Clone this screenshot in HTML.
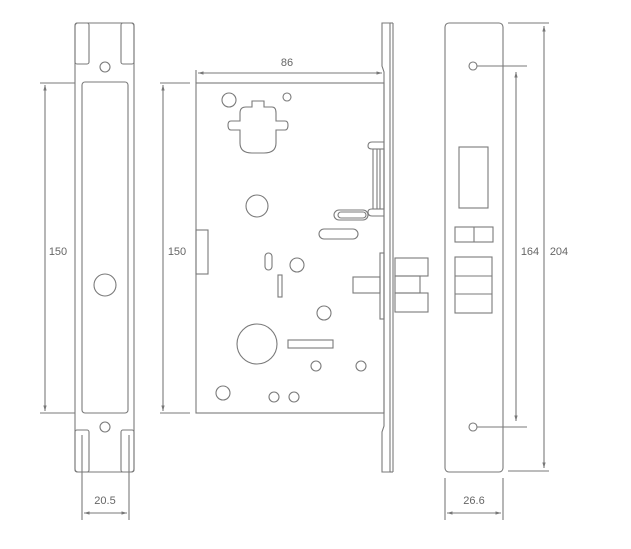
<!DOCTYPE html>
<html><head><meta charset="utf-8"><style>
html,body{margin:0;padding:0;background:#fff;}
svg{display:block;}
text{font-family:"Liberation Sans",sans-serif;font-size:11px;fill:#666;}
</style></head><body>
<svg width="631" height="549" viewBox="0 0 631 549" xmlns="http://www.w3.org/2000/svg">
<defs>
<marker id="a" markerWidth="6" markerHeight="6" refX="5" refY="3" orient="auto-start-reverse"><path d="M0,1.5 L5,3 L0,4.5z" fill="#777"/></marker>
</defs>
<g fill="none" stroke="#7a7a7a" stroke-width="1.1">
<!-- left plate -->
<rect x="75" y="23" width="59" height="449" rx="3"/>
<rect x="82" y="82" width="46" height="331" rx="3"/>
<rect x="75" y="23" width="14" height="41" rx="2"/>
<rect x="121" y="23" width="13" height="41" rx="2"/>
<rect x="75" y="430" width="14" height="42" rx="2"/>
<rect x="121" y="430" width="13" height="42" rx="2"/>
<circle cx="105" cy="67" r="5"/>
<circle cx="105" cy="427" r="5"/>
<circle cx="105" cy="285" r="11"/>
<!-- left dims -->
<line x1="40" y1="83" x2="75" y2="83"/>
<line x1="40" y1="413" x2="75" y2="413"/>
<line x1="45" y1="85" x2="45" y2="411" marker-start="url(#a)" marker-end="url(#a)"/>
<line x1="82" y1="435" x2="82" y2="520"/>
<line x1="129" y1="435" x2="129" y2="520"/>
<line x1="84" y1="513" x2="127" y2="513" marker-start="url(#a)" marker-end="url(#a)"/>
<line x1="160" y1="83" x2="190" y2="83"/>
<line x1="160" y1="413" x2="190" y2="413"/>
<line x1="163" y1="85" x2="163" y2="411" marker-start="url(#a)" marker-end="url(#a)"/>
<!-- middle body -->
<rect x="196" y="83" width="188" height="330"/>
<line x1="196" y1="70" x2="196" y2="83"/>
<line x1="198" y1="73" x2="382" y2="73" marker-start="url(#a)" marker-end="url(#a)"/>
<path d="M382,23 L390,23 L390,472 L382,472 L382,432 L384,426 L384,72 L382,66 Z"/>
<line x1="393" y1="23" x2="393" y2="472"/>
<line x1="390" y1="23" x2="393" y2="23"/><line x1="390" y1="472" x2="393" y2="472"/>
<circle cx="229" cy="100" r="7"/>
<circle cx="287" cy="97" r="4"/>
<path d="M252,107 L252,101 L264,101 L264,107 L272,107 Q276,107 276,113 L276,121 L285,121 Q288,121 288,125 Q288,130 285,130 L276,130 L276,143 Q276,153 264,153 L252,153 Q240,153 240,143 L240,130 L231,130 Q228,130 228,125 Q228,121 231,121 L240,121 L240,113 Q240,107 246,107 Z"/>
<circle cx="257" cy="206" r="11"/>
<rect x="334" y="210" width="34" height="10" rx="5"/>
<rect x="338" y="212" width="28" height="6" rx="3"/>
<rect x="319" y="229" width="39" height="10" rx="5"/>
<rect x="196" y="230" width="12" height="44"/>
<rect x="265" y="253" width="7" height="17" rx="3.5"/>
<circle cx="297" cy="265" r="7"/>
<rect x="278" y="275" width="4" height="22"/>
<circle cx="324" cy="313" r="7"/>
<circle cx="257" cy="344" r="20"/>
<rect x="288" y="340" width="45" height="8"/>
<circle cx="316" cy="366" r="5"/>
<circle cx="361" cy="366" r="5"/>
<circle cx="223" cy="393" r="7"/>
<circle cx="274" cy="397" r="5"/>
<circle cx="294" cy="397" r="5"/>
<!-- bar -->
<rect x="373" y="149" width="11" height="60"/>
<line x1="377" y1="149" x2="377" y2="209"/><line x1="380" y1="149" x2="380" y2="209"/>
<path d="M384,142 L372,142 Q368,142 368,146 Q368,149 372,149 L384,149"/>
<path d="M384,209 L372,209 Q368,209 368,212 Q368,216 372,216 L384,216"/>
<!-- latch -->
<rect x="380" y="253" width="4" height="66"/>
<rect x="353" y="277" width="27" height="16"/>
<rect x="395" y="258" width="33" height="18"/>
<rect x="395" y="276" width="25" height="17"/>
<rect x="395" y="293" width="33" height="19"/>
<!-- right plate -->
<rect x="445" y="23" width="58" height="449" rx="4"/>
<circle cx="473" cy="66" r="4"/>
<circle cx="473" cy="427" r="4"/>
<line x1="477" y1="66" x2="527" y2="66"/>
<line x1="477" y1="427" x2="527" y2="427"/>
<rect x="459" y="147" width="29" height="61"/>
<rect x="455" y="227" width="38" height="15"/>
<line x1="474" y1="227" x2="474" y2="242"/>
<rect x="455" y="257" width="37" height="56"/>
<line x1="455" y1="276" x2="492" y2="276"/>
<line x1="455" y1="294" x2="492" y2="294"/>
<line x1="516" y1="72" x2="516" y2="421" marker-start="url(#a)" marker-end="url(#a)"/>
<line x1="508" y1="23" x2="549" y2="23"/>
<line x1="508" y1="471" x2="549" y2="471"/>
<line x1="544" y1="26" x2="544" y2="468" marker-start="url(#a)" marker-end="url(#a)"/>
<line x1="445" y1="478" x2="445" y2="520"/>
<line x1="503" y1="478" x2="503" y2="520"/>
<line x1="447" y1="513" x2="501" y2="513" marker-start="url(#a)" marker-end="url(#a)"/>
</g>
<g>
<text x="58" y="255" text-anchor="middle">150</text>
<text x="177" y="255" text-anchor="middle">150</text>
<text x="287" y="66" text-anchor="middle">86</text>
<text x="105" y="504" text-anchor="middle">20.5</text>
<text x="474" y="504" text-anchor="middle">26.6</text>
<text x="530" y="255" text-anchor="middle">164</text>
<text x="559" y="255" text-anchor="middle">204</text>
</g>
</svg>
</body></html>
